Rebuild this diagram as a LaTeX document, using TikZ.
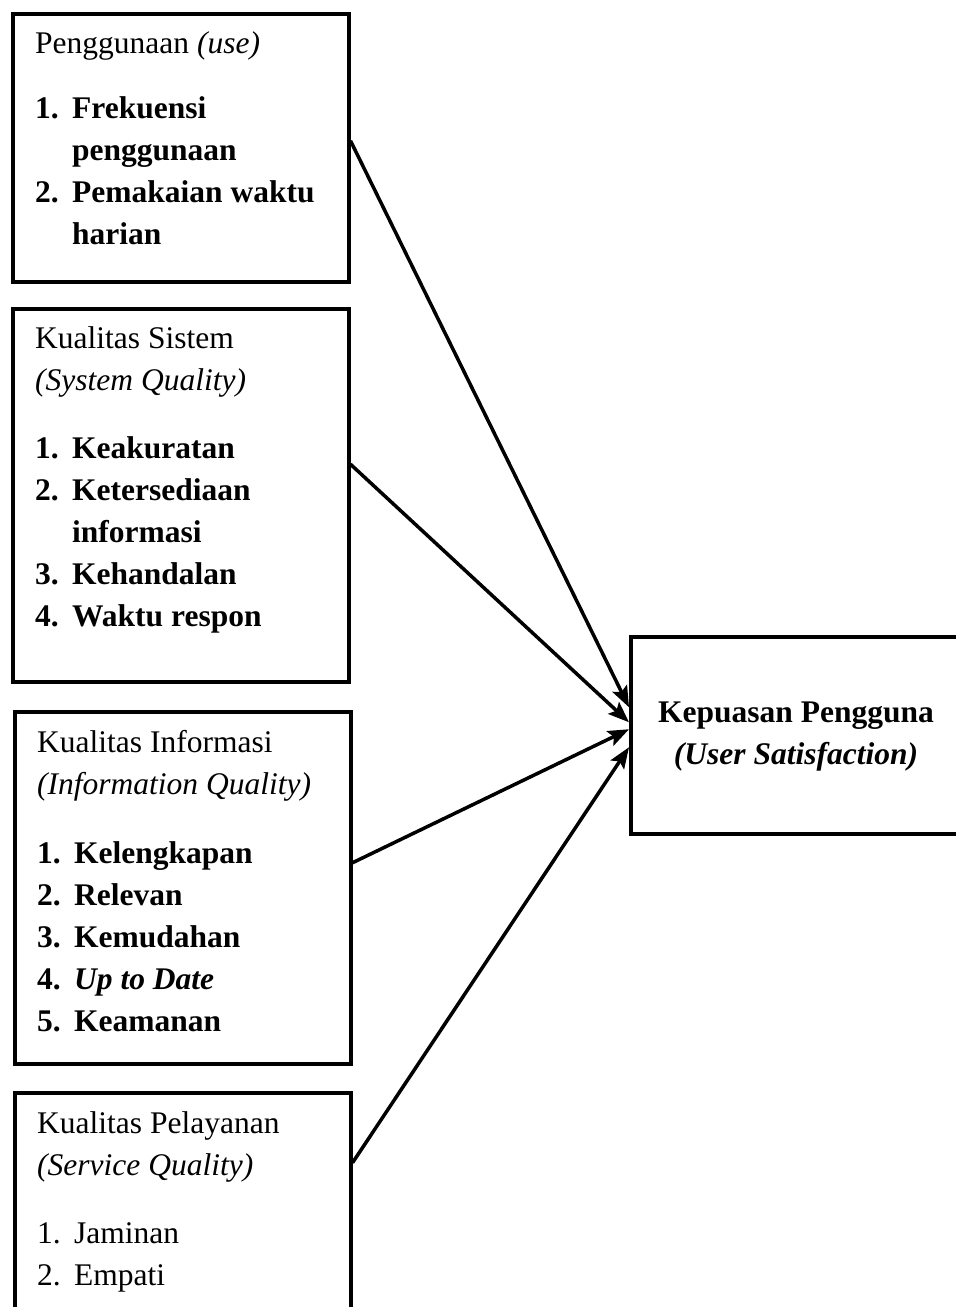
\documentclass[tikz,border=0pt]{standalone}
\usepackage{fontspec}
\setmainfont{Liberation Serif}
\usetikzlibrary{arrows.meta}

\newcommand{\itm}[2]{\makebox[37pt][l]{#1}#2}

\begin{document}
\begin{tikzpicture}[x=1pt,y=-1pt,
 box/.style={draw,line width=3.5pt,rectangle,inner sep=0pt,anchor=north west},
 txt/.style={inner sep=0pt,anchor=north west,font=\fontsize{31.5}{42}\selectfont},
 arr/.style={-{Stealth[length=21pt,width=16pt,inset=4pt]},line width=3.5pt}]
\useasboundingbox (0,0) rectangle (956,1307);
\clip (0,0) rectangle (956,1307);
% the four variables on the left
\node[box,minimum width=336pt,minimum height=268pt] (use) at (11,12) {};
\node[box,minimum width=336pt,minimum height=373pt] (sys) at (11,307) {};
\node[box,minimum width=336pt,minimum height=352pt] (inf) at (13,710) {};
\node[box,minimum width=336pt,minimum height=260pt] (svc) at (13,1091) {};
% dependent variable
\node[box,minimum width=380pt,minimum height=197pt] (sat) at (629,635) {};

\node[txt] (use-t) at ([shift={(24,11.6)}]use.north west) {%
 \begin{tabular}{@{}l@{}}
 Penggunaan \textit{(use)}\\[23pt]
 \bfseries\itm{1.}{Frekuensi}\\
 \bfseries\itm{}{penggunaan}\\
 \bfseries\itm{2.}{Pemakaian waktu}\\
 \bfseries\itm{}{harian}
 \end{tabular}};
\node[txt] (sys-t) at ([shift={(24,11.6)}]sys.north west) {%
 \begin{tabular}{@{}l@{}}
 Kualitas Sistem\\
 \textit{(System Quality)}\\[26pt]
 \bfseries\itm{1.}{Keakuratan}\\
 \bfseries\itm{2.}{Ketersediaan}\\
 \bfseries\itm{}{informasi}\\
 \bfseries\itm{3.}{Kehandalan}\\
 \bfseries\itm{4.}{Waktu respon}
 \end{tabular}};
\node[txt] (inf-t) at ([shift={(24,12.6)}]inf.north west) {%
 \begin{tabular}{@{}l@{}}
 Kualitas Informasi\\
 \textit{(Information Quality)}\\[27pt]
 \bfseries\itm{1.}{Kelengkapan}\\
 \bfseries\itm{2.}{Relevan}\\
 \bfseries\itm{3.}{Kemudahan}\\
 \bfseries\itm{4.}{\itshape Up to Date}\\
 \bfseries\itm{5.}{Keamanan}
 \end{tabular}};
\node[txt] (svc-t) at ([shift={(24,12.6)}]svc.north west) {%
 \begin{tabular}{@{}l@{}}
 Kualitas Pelayanan\\
 \textit{(Service Quality)}\\[26pt]
 \itm{1.}{Jaminan}\\
 \itm{2.}{Empati}
 \end{tabular}};
\node[txt,anchor=north] (sat-t) at (796,692.6) {%
 \begin{tabular}{@{}c@{}}
 \bfseries Kepuasan Pengguna\\
 \bfseries\itshape (User Satisfaction)
 \end{tabular}};

\foreach \src/\a/\b in {use/7/28,sys/31/13,inf/25/6,svc/60/-12}
 \draw[arr] ([yshift=\a pt]\src.east) -- ([yshift=\b pt]sat.west);
\end{tikzpicture}
\end{document}
